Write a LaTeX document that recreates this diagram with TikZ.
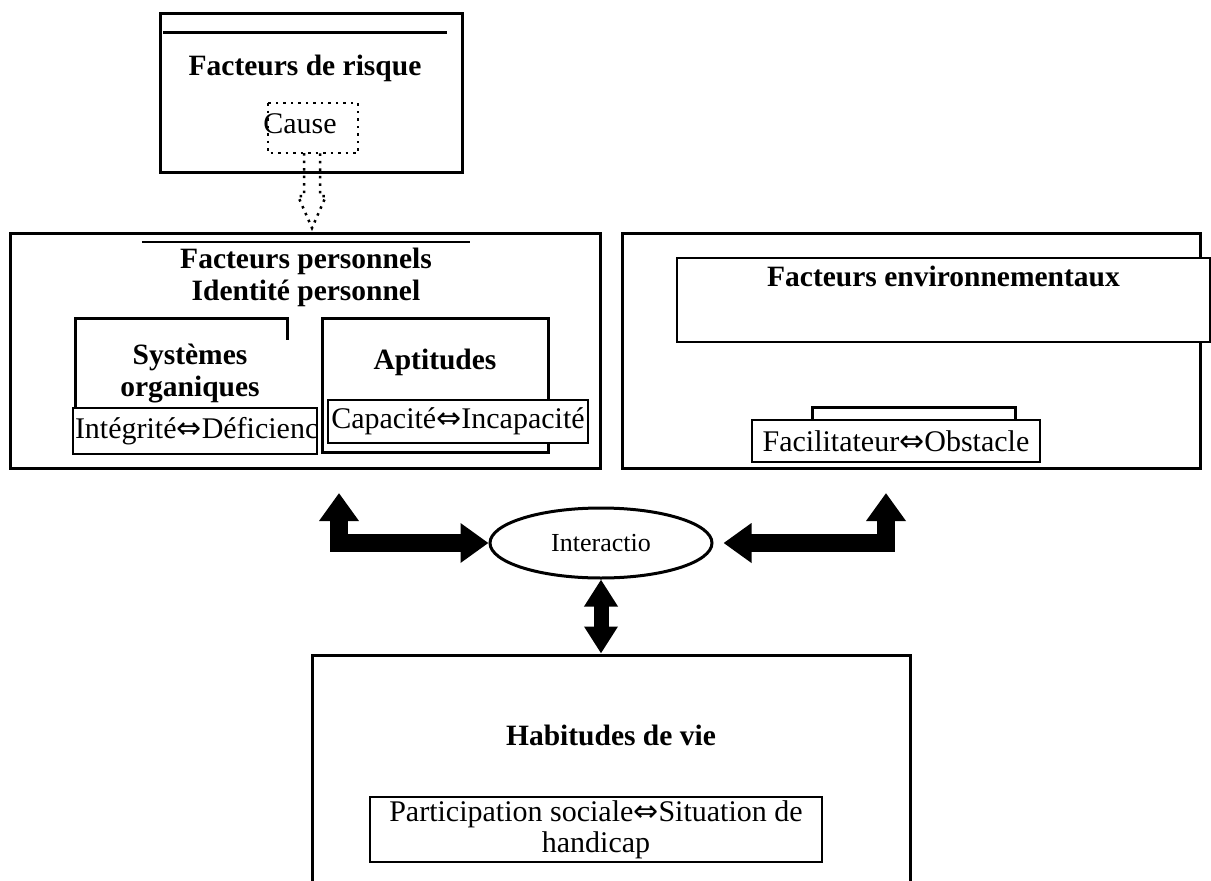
\documentclass[tikz,border=0pt]{standalone}
\usepackage{fontspec}
\setmainfont{Liberation Serif}
\newfontfamily\symf{DejaVu Sans}
\newcommand{\dblarr}{{\symf ⇔}}
\usetikzlibrary{arrows.meta,positioning,shapes.geometric,calc}

\begin{document}
\begin{tikzpicture}[x=1pt, y=-1pt,
  frame/.style={draw, line width=3pt, inner sep=0pt},
  cover/.style={fill=white, inner sep=0pt, align=center,
    font=\fontsize{29.5}{32}\selectfont\bfseries},
  tbox/.style={draw, line width=2pt, fill=white, inner sep=0pt, align=center,
    font=\fontsize{30}{31}\selectfont},
  head/.style={inner sep=0pt, align=center, font=\fontsize{29.5}{32}\selectfont\bfseries},
  fat/.style={line width=18pt,
    {Triangle[length=28pt,width=38pt]}-{Triangle[length=28pt,width=38pt]}},
  thin fat/.style={line width=15pt,
    {Triangle[length=27pt,width=32pt]}-{Triangle[length=27pt,width=32pt]}},
  dots/.style={dash pattern=on 2.5pt off 5pt, line width=2.5pt},
]
  \useasboundingbox (0,0) rectangle (1211,881);

  % Facteurs de risque
  \node[frame, minimum width=302, minimum height=159] (risk) at (311,92.5) {};
  \node[head, minimum width=283, minimum height=72, anchor=north] (riskhead) at (305,32)
    {Facteurs de risque};
  \draw[line width=3pt] (riskhead.north west) -- (riskhead.north east);
  \node[inner sep=0pt, font=\fontsize{30}{32}\selectfont] (cause) at (300,124) {Cause};
  \draw[dots] (268,103) rectangle (358,153);
  \draw[dots] (304,153) -- (304,196) -- (298,196) -- (312,228)
    -- (326,196) -- (320,196) -- (320,153);

  % Facteurs personnels
  \node[frame, minimum width=590, minimum height=235] (pers) at (305,350.5) {};
  \node[head, minimum width=328, anchor=north, inner ysep=6pt] (pershead) at (306,242)
    {Facteurs personnels\\Identité personnel};
  \draw[line width=2.5pt] (pershead.north west) -- (pershead.north east);

  \node[frame, minimum width=212, minimum height=112] (sys) at (181,374) {};
  \node[cover, minimum width=222, minimum height=68] (syshead) at (190,374)
    {Systèmes\\organiques};
  \node[tbox, minimum width=244, minimum height=46] (integ) at (195,431)
    {\makebox[240pt][l]{Intégrité\dblarr Déficienc}};

  \node[frame, minimum width=226, minimum height=134] (apt) at (435,385) {};
  \node[head] (apthead) at (435,362) {Aptitudes};
  \node[tbox, minimum width=260, minimum height=43] (capac) at (458,421.5)
    {Capacité\dblarr Incapacité};

  % Facteurs environnementaux
  \node[frame, minimum width=578, minimum height=235] (env) at (911,350.5) {};
  \node[tbox, minimum width=533, minimum height=84] (envhead) at (943.5,300) {};
  \node[head, below=9pt of envhead.north] (envtitle) {Facteurs environnementaux};
  \node[frame, minimum width=203, minimum height=38] (facback) at (913.5,426) {};
  \node[tbox, minimum width=288, minimum height=42] (facil) at (896,441)
    {Facilitateur\dblarr Obstacle};

  % Interaction
  \node[draw, ellipse, line width=3pt, fill=white, minimum width=222, minimum height=70,
    inner sep=0pt, font=\fontsize{26}{28}\selectfont] (inter) at (601,543) {Interactio};
  \coordinate (lup) at (339,493);
  \coordinate (rup) at (886,493);
  \coordinate (rtip) at ($(inter.east)+(10,0)$);

  % Habitudes de vie
  \node[frame, minimum width=598, minimum height=245] (habit) at (611,777.5) {};
  \node[head] (habhead) at (611,735) {Habitudes de vie};
  \node[tbox, minimum width=452, minimum height=65] (partic) at (596,829.5)
    {Participation sociale\dblarr Situation de\\handicap};

  \draw[fat] (lup) |- (inter.west);
  \draw[fat] (rup) |- (rtip);
  \draw[thin fat] (inter.south) -- (inter.south |- habit.north);
\end{tikzpicture}
\end{document}
